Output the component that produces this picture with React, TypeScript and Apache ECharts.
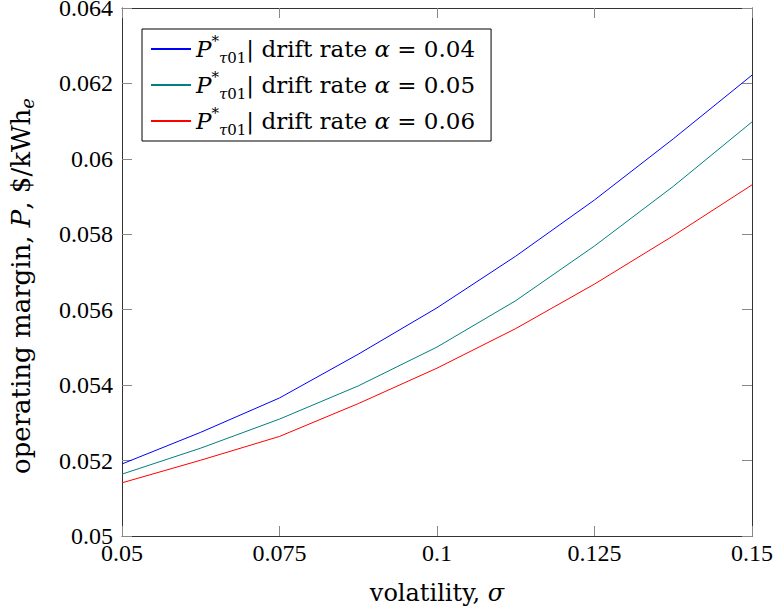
import React, { useEffect, useRef } from "react";
import * as echarts from "echarts";

const sigma = [0.05, 0.0625, 0.075, 0.0875, 0.1, 0.1125, 0.125, 0.1375, 0.15];
const alpha004 = [0.05191, 0.05275, 0.05366, 0.05482, 0.05605, 0.05742, 0.05891, 0.06053, 0.06222];
const alpha005 = [0.05164, 0.05233, 0.0531, 0.05398, 0.05501, 0.05624, 0.05769, 0.05927, 0.06098];
const alpha006 = [0.05141, 0.05201, 0.05264, 0.05351, 0.05445, 0.0555, 0.05668, 0.05796, 0.05931];
const alphas = ["0.04", "0.05", "0.06"];
const colors = ["#0000ff", "#008080", "#ff0000"];
const seriesValues = [alpha004, alpha005, alpha006];

const FONT = "'Liberation Serif', serif";
const TFONT = "'DejaVu Serif', serif";

const seriesName = (a: string) => `P*τ01 | drift rate α = ${a}`;

export default function App() {
  const ref = useRef<HTMLDivElement>(null);
  useEffect(() => {
    if (!ref.current) return;
    const chart = echarts.init(ref.current, undefined, { renderer: "svg" });
    const axisCommon = {
      type: "value" as const,
      axisLine: { show: true, lineStyle: { color: "#333", width: 1 } },
      axisTick: { show: true, inside: true, length: 10, lineStyle: { color: "#888", width: 1 } },
      splitLine: { show: false },
    };
    const txt = (size: number, extra: any = {}) => ({ fontFamily: TFONT, fontSize: size, color: "#000", fontWeight: 300, ...extra });
    chart.setOption({
      animation: false,
      backgroundColor: "#fff",
      grid: { left: 122, right: 26, top: 8, bottom: 73, containLabel: false, outerBoundsMode: "none" },
      legend: {
        left: 142,
        top: 29,
        orient: "vertical",
        itemWidth: 40,
        itemHeight: 2,
        itemGap: 4,
        padding: [4, 16, 4, 8],
        borderColor: "#000",
        borderWidth: 1,
        borderRadius: 0,
        backgroundColor: "#fff",
        data: alphas.map((a) => seriesName(a)),
        formatter: (name: string) => {
          const a = name.split("= ")[1];
          return `{i|P}{sup|*}{subi|τ}{sub|01}{r|| drift rate }{i|α}{r| = ${a}}`;
        },
        textStyle: {
          ...txt(23),
          rich: {
            i: txt(23, { fontStyle: "italic", lineHeight: 32 }),
            r: txt(23, { lineHeight: 32 }),
            sup: txt(15, { lineHeight: 16, verticalAlign: "top" }),
            subi: txt(15, { fontStyle: "italic", lineHeight: 14, verticalAlign: "bottom" }),
            sub: txt(15, { lineHeight: 14, verticalAlign: "bottom" }),
          },
        },
      },
      xAxis: [
        {
          ...axisCommon,
          min: 0.05,
          max: 0.15,
          interval: 0.025,
          position: "bottom",
          axisLabel: {
            color: "#000",
            fontFamily: FONT,
            fontSize: 24,
            margin: 5,
            formatter: (v: number) => String(parseFloat(v.toFixed(4))),
          },
          name: "{r|volatility, }{i|σ}",
          nameLocation: "middle",
          nameGap: 45,
          nameTextStyle: {
            ...txt(24),
            rich: {
              r: txt(24),
              i: txt(24, { fontStyle: "italic" }),
            },
          },
        },
        {
          ...axisCommon,
          min: 0.05,
          max: 0.15,
          interval: 0.025,
          position: "top",
          axisLabel: { show: false },
        },
      ],
      yAxis: [
        {
          ...axisCommon,
          min: 0.05,
          max: 0.064,
          interval: 0.002,
          position: "left",
          axisLabel: {
            color: "#000",
            fontFamily: FONT,
            fontSize: 24,
            margin: 9,
            formatter: (v: number) => String(parseFloat(v.toFixed(4))),
          },
          name: "{r|operating margin, }{i|P}{r|, $/kWh}{s|e}",
          nameLocation: "middle",
          nameGap: 86,
          nameTextStyle: {
            ...txt(26),
            padding: [0, 28, 0, 0],
            rich: {
              r: txt(26, { lineHeight: 30 }),
              i: txt(26, { fontStyle: "italic", lineHeight: 30 }),
              s: txt(18, { fontStyle: "italic", lineHeight: 12, verticalAlign: "bottom" }),
            },
          },
        },
        {
          ...axisCommon,
          min: 0.05,
          max: 0.064,
          interval: 0.002,
          position: "right",
          axisLabel: { show: false },
        },
      ],
      series: seriesValues.map((vals, idx) => ({
        name: seriesName(alphas[idx]),
        type: "line",
        xAxisIndex: 0,
        yAxisIndex: 0,
        symbol: "none",
        showSymbol: false,
        smooth: false,
        lineStyle: { color: colors[idx], width: 1 },
        itemStyle: { color: colors[idx] },
        data: sigma.map((s, i) => [s, vals[i]]),
      })),
    });
    return () => chart.dispose();
  }, []);
  return <div ref={ref} style={{ width: 778, height: 609, position: "absolute", left: 0, top: 0 }} />;
}
